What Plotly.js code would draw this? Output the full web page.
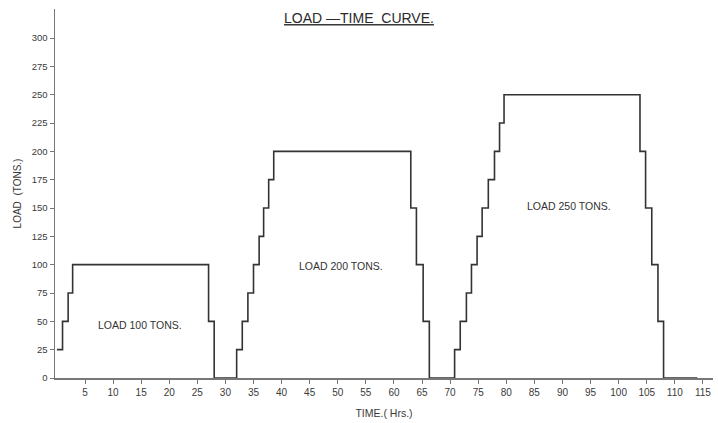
<!DOCTYPE html>
<html>
<head>
<meta charset="utf-8">
<script src="https://cdn.plot.ly/plotly-3.0.1.min.js"></script>
<style>html,body{margin:0;padding:0;background:#fff;}#chart{width:718px;height:423px;}</style>
</head>
<body>
<div id="chart"></div>
<script>
// Step change times (hours) and the load (tons) held from each time onward
const stepTimes = [0, 1, 2, 2.8, 27, 28, 32, 33, 34, 35, 36, 36.8, 37.7, 38.6, 63, 64, 65.2, 66.3,
  70.8, 71.8, 72.9, 73.8, 74.8, 75.7, 76.8, 77.9, 78.8, 79.6, 103.8, 104.8, 105.9, 107, 108, 114];
const stepLoads = [25, 50, 75, 100, 50, 0, 25, 50, 75, 100, 125, 150, 175, 200, 150, 100, 50, 0,
  25, 50, 75, 100, 125, 150, 175, 200, 225, 250, 200, 150, 100, 50, 0, 0];

const xTickVals = [5,10,15,20,25,30,35,40,45,50,55,60,65,70,75,80,85,90,95,100,105,110,115];
const yTickVals = [0,25,50,75,100,125,150,175,200,225,250,275,300];

const labelText = ["LOAD 100 TONS.", "LOAD 200 TONS.", "LOAD 250 TONS."];
const labelX = [14.8, 50.6, 91.2];
const labelY = [46.8, 98.8, 151.8];

const FONT = "Liberation Sans, Arial, sans-serif";
const INK = "#3a3a3a";

const trace = {
  x: stepTimes, y: stepLoads, type: "scatter", mode: "lines",
  line: {shape: "hv", color: "#333", width: 1.6},
  hoverinfo: "skip", showlegend: false
};

const layout = {
  width: 718, height: 423,
  margin: {l: 55, r: 5, t: 9, b: 45},
  paper_bgcolor: "#fff", plot_bgcolor: "#fff",
  font: {family: FONT, color: INK, size: 9},
  title: {
    text: "LOAD \u2014TIME  CURVE.",
    x: 0.462, xref: "paper", xanchor: "center",
    y: 0.957, yref: "container", yanchor: "middle",
    font: {family: FONT, size: 14, color: "#2a2a2a", lineposition: "under"}
  },
  xaxis: {
    range: [-0.34, 116.8], showgrid: false, zeroline: false,
    showline: true, linecolor: "#777", linewidth: 1.5,
    tickmode: "array", tickvals: xTickVals,
    ticks: "outside", ticklen: 4, tickcolor: "#777", tickwidth: 1,
    tickfont: {size: 10, color: INK},
    title: {text: "TIME.( Hrs.)", font: {size: 10.5, color: INK}, standoff: 13}
  },
  yaxis: {
    range: [0, 325.6], showgrid: false, zeroline: false,
    showline: true, linecolor: "#777", linewidth: 1.5,
    tickmode: "array", tickvals: yTickVals,
    ticks: "outside", ticklen: 4, tickcolor: "#777", tickwidth: 1,
    tickfont: {size: 9.5, color: INK},
    title: {text: "LOAD  (TONS.)", font: {size: 10, color: INK}, standoff: 8}
  },
  annotations: labelText.map((t, i) => ({
    text: t, x: labelX[i], y: labelY[i], xref: "x", yref: "y",
    showarrow: false, font: {size: 10.5, color: "#333"}
  }))
};

Plotly.newPlot("chart", [trace], layout, {staticPlot: true, displayModeBar: false});
</script>
</body>
</html>
